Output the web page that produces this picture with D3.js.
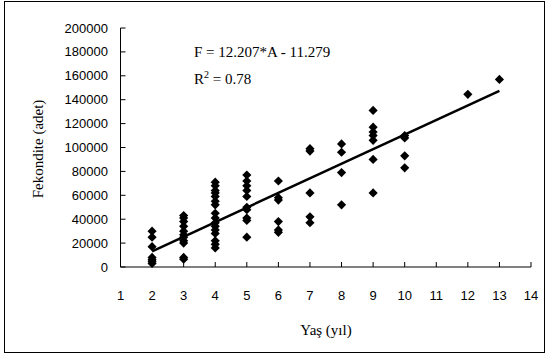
<!DOCTYPE html>
<html><head><meta charset="utf-8">
<script src="https://cdn.jsdelivr.net/npm/d3@7"></script>
<style>html,body{margin:0;padding:0;background:#fff;}</style>
</head><body>
<script>
const ages = [2,2,2,2,2,2,2,
  3,3,3,3,3,3,3,3,3,3,3,
  4,4,4,4,4,4,4,4,4,4,4,4,4,4,4,4,
  5,5,5,5,5,5,5,5,5,5,
  6,6,6,6,6,6,
  7,7,7,7,7,
  8,8,8,8,
  9,9,9,9,9,9,9,
  10,10,10,10,
  12,13];
const fecundity = [30000,25000,17000,8000,6000,4500,3000,
  43000,41000,38000,34000,30000,27000,25000,22000,20000,8000,6500,
  71000,68000,64000,62000,59000,55000,52000,45000,41000,37000,34000,31000,28000,22000,19000,16000,
  77000,72000,68000,64000,59000,50000,48000,41000,39000,25000,
  72000,58000,56000,38000,31000,29000,
  99000,97000,62000,42000,37000,
  103000,96000,79000,52000,
  131000,117000,113000,110000,106000,90000,62000,
  110000,108000,93000,83000,
  144500,157000];
const xTicks = [1,2,3,4,5,6,7,8,9,10,11,12,13,14];
const yTicks = [0,20000,40000,60000,80000,100000,120000,140000,160000,180000,200000];
const slope = 12.207, intercept = -11.279; // thousands
const fitRange = [2,13];

const W=548,H=356;
const svg=d3.select("body").append("svg").attr("width",W).attr("height",H);
svg.append("rect").attr("x",4.5).attr("y",1.5).attr("width",540).attr("height",351)
  .attr("fill","#fff").attr("stroke","#000").attr("stroke-width",1);

const x=d3.scaleLinear().domain([1,14]).range([120.5,531]);
const y=d3.scaleLinear().domain([0,200000]).range([267,28]);

const g=svg.append("g");
g.append("line").attr("x1",x(1)).attr("x2",x(1)).attr("y1",y(200000)).attr("y2",y(0)).attr("stroke","#000");
g.append("line").attr("x1",x(1)).attr("x2",x(14)).attr("y1",y(0)).attr("y2",y(0)).attr("stroke","#000");
yTicks.forEach(t=>{
  g.append("line").attr("x1",x(1)).attr("x2",x(1)+5).attr("y1",y(t)).attr("y2",y(t)).attr("stroke","#000");
  g.append("text").attr("x",108).attr("y",y(t)).attr("dy","0.35em").attr("text-anchor","end")
   .attr("font-family","Liberation Sans, Arial, sans-serif").attr("font-size",13).text(t);
});
xTicks.forEach(t=>{
  g.append("line").attr("x1",x(t)).attr("x2",x(t)).attr("y1",y(0)).attr("y2",y(0)-5).attr("stroke","#000");
  g.append("text").attr("x",x(t)).attr("y",300).attr("text-anchor","middle")
   .attr("font-family","Liberation Sans, Arial, sans-serif").attr("font-size",13).text(t);
});
g.append("line").attr("x1",x(fitRange[0])).attr("y1",y((slope*fitRange[0]+intercept)*1000))
  .attr("x2",x(fitRange[1])).attr("y2",y((slope*fitRange[1]+intercept)*1000))
  .attr("stroke","#000").attr("stroke-width",2.5);
const sym=d3.symbol().type(d3.symbolSquare).size(42);
g.selectAll("path.pt").data(ages.map((a,i)=>[a,fecundity[i]])).join("path").attr("class","pt")
  .attr("d",sym).attr("fill","#000")
  .attr("transform",d=>`translate(${x(d[0])},${y(d[1])}) rotate(45)`);
const serif="Liberation Serif, Times New Roman, serif";
g.append("text").attr("x",194).attr("y",y(180000)+5).attr("font-family",serif).attr("font-size",15).text("F = 12.207*A - 11.279");
const r=g.append("text").attr("x",194).attr("y",y(160000)+8).attr("font-family",serif).attr("font-size",15);
r.append("tspan").text("R");
r.append("tspan").attr("dy",-6).attr("font-size",10).text("2");
r.append("tspan").attr("dy",6).text(" = 0.78");
g.append("text").attr("transform","translate(43,149) rotate(-90)").attr("text-anchor","middle")
  .attr("font-family",serif).attr("font-size",15).text("Fekondite (adet)");
g.append("text").attr("x",326).attr("y",335).attr("text-anchor","middle")
  .attr("font-family",serif).attr("font-size",15).text("Yaş (yıl)");
</script>
</body></html>
